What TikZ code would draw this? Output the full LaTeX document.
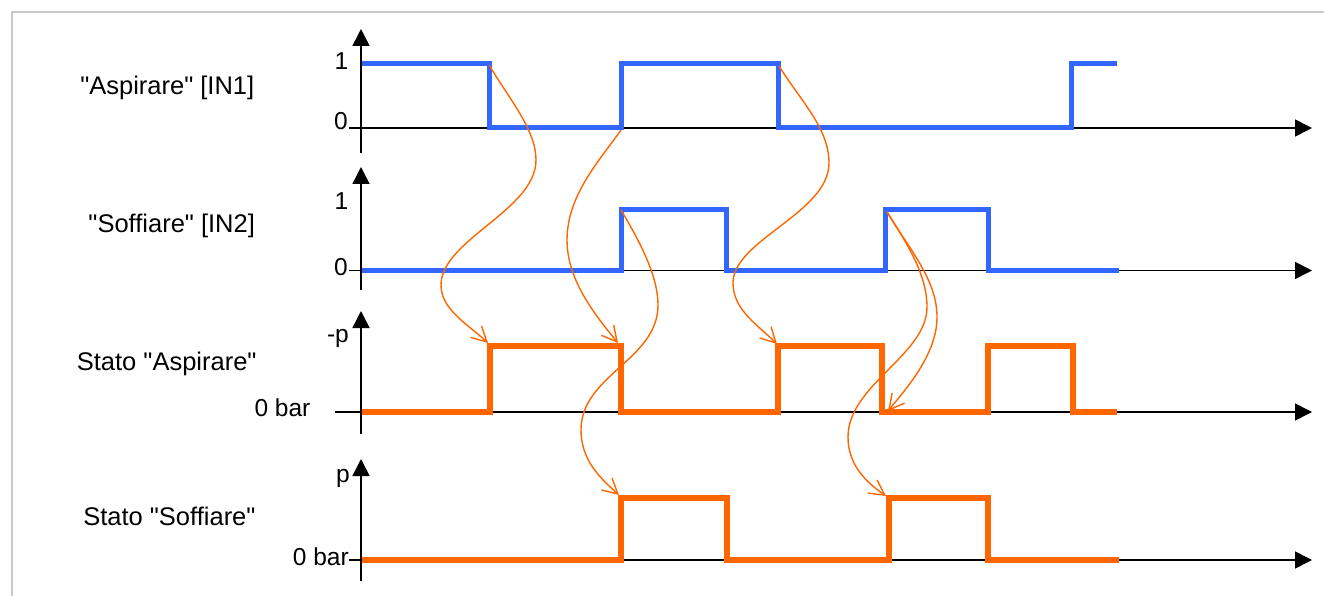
\documentclass[tikz,border=0pt]{standalone}
\usepackage{fontspec}
\setmainfont{Liberation Sans}[Ligatures=TeXOff]
\usetikzlibrary{arrows.meta}
\definecolor{sigblue}{RGB}{51,102,255}
\definecolor{sigorange}{RGB}{255,102,0}
\definecolor{framegray}{RGB}{200,200,200}
\begin{document}
\begin{tikzpicture}[x=1pt,y=-1pt,
  axisline/.style={line width=1.6pt, black, -{Triangle[length=17pt,width=17pt]}},
  bluewave/.style={sigblue, line width=5pt},
  orangewave/.style={sigorange, line width=6.5pt},
  cause/.style={sigorange, line width=1.4pt, -{Straight Barb[length=15pt,width=16pt]}},
  lbl/.style={font=\fontsize{25.5}{30}\selectfont, inner sep=0pt, anchor=base},
  axlbl/.style={font=\fontsize{24.5}{29}\selectfont, inner sep=0pt, anchor=base east}]
\useasboundingbox (0,0) rectangle (1324,596);
% frame
\draw[framegray, line width=1.5pt] (12,596) -- (12,12) -- (1324,12);
% axes
\draw[axisline] (349,128) -- (1312,128);
\draw[axisline] (361,153) -- (361,29);
\draw[axisline] (349,270.5) -- (1312,270.5);
\draw[axisline] (361,290) -- (361,167);
\draw[axisline] (335,412) -- (1312,412);
\draw[axisline] (361,434) -- (361,311);
\draw[axisline] (349,560) -- (1312,560);
\draw[axisline] (361,581) -- (361,459);
% axis labels
\node[axlbl] (y1a) at (348.5,69.3) {1};
\node[axlbl] (y0a) at (348,130) {0};
\node[axlbl] (y1b) at (348.5,209.3) {1};
\node[axlbl] (y0b) at (348,275) {0};
\node[axlbl] (ypc) at (349,342.7) {-p};
\node[axlbl] (y0c) at (310.6,416.7) {0 bar};
\node[axlbl] (ypd) at (350,482.7) {p};
\node[axlbl] (y0d) at (349,565) {0 bar};
% row labels
\node[lbl] (in1) at (167.3,94.3) {"Aspirare" [IN1]};
\node[lbl] (in2) at (171.7,232.3) {"Soffiare" [IN2]};
\node[lbl] (st1) at (166.7,370) {Stato "Aspirare"};
\node[lbl] (st2) at (169.4,525.3) {Stato "Soffiare"};
% waveforms
\draw[bluewave] (362,64) -- (489,64) -- (489,128) -- (621,128) -- (621,64) -- (778,64) -- (778,128) -- (1071,128) -- (1071,64) -- (1117,64);
\draw[bluewave] (362,270.5) -- (621,270.5) -- (621,209) -- (726,209) -- (726,270.5) -- (885,270.5) -- (885,209) -- (988,209) -- (988,270.5) -- (1119,270.5);
\draw[orangewave] (362,412) -- (490,412) -- (490,346) -- (621,346) -- (621,412) -- (778,412) -- (778,346) -- (882,346) -- (882,412) -- (988,412) -- (988,346) -- (1073,346) -- (1073,412) -- (1117,412);
\draw[orangewave] (362,560) -- (621,560) -- (621,498) -- (727,498) -- (727,560) -- (889,560) -- (889,498) -- (988,498) -- (988,560) -- (1119,560);
% corner coordinates
\coordinate (a1) at (489,65);
\coordinate (a2) at (488,343);
\coordinate (b1) at (621,130);
\coordinate (b2) at (618,343);
\coordinate (c1) at (621,210);
\coordinate (c2) at (619,495);
\coordinate (d1) at (779,66);
\coordinate (d2) at (777,344);
\coordinate (e1) at (887,212);
\coordinate (e2) at (888,411);
\coordinate (f2) at (886,496);
% cause curves
\draw[cause] (a1) .. controls (510,100) and (536,130) .. (536,160) .. controls (536,210) and (441,240) .. (441,285) .. controls (441,310) and (469,325) .. (a2);
\draw[cause] (b1) .. controls (600,160) and (567,195) .. (567,240) .. controls (567,280) and (595,315) .. (b2);
\draw[cause] (c1) .. controls (645,250) and (658,280) .. (658,305) .. controls (658,360) and (581,375) .. (581,430) .. controls (581,460) and (600,478) .. (c2);
\draw[cause] (d1) .. controls (800,100) and (829,128) .. (829,163) .. controls (829,213) and (733,240) .. (733,283) .. controls (733,310) and (758,325) .. (d2);
\draw[cause] (e1) .. controls (910,250) and (937,280) .. (937,317) .. controls (937,355) and (905,390) .. (e2);
\draw[cause] (e1) .. controls (908,245) and (927,275) .. (927,307) .. controls (927,355) and (848,385) .. (848,437) .. controls (848,465) and (866,482) .. (f2);
\end{tikzpicture}
\end{document}
